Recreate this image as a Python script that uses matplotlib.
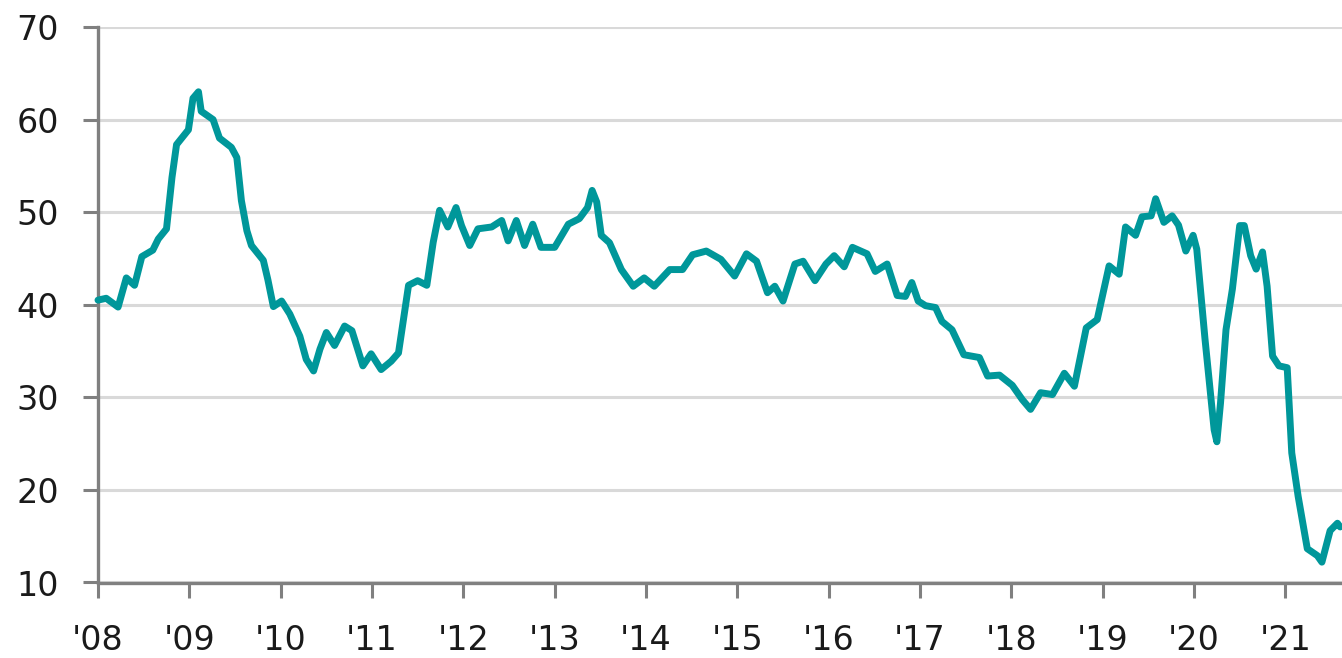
import matplotlib
matplotlib.use("Agg")
import matplotlib.pyplot as plt

# time in fractional years
years = [
    2008.00, 2008.09, 2008.22, 2008.31, 2008.40, 2008.48, 2008.60, 2008.66,
    2008.75, 2008.81, 2008.86, 2008.99, 2009.04, 2009.10, 2009.13, 2009.26,
    2009.33, 2009.46, 2009.52, 2009.57, 2009.63, 2009.68, 2009.81, 2009.86,
    2009.92, 2010.01, 2010.10, 2010.21, 2010.28, 2010.36, 2010.43, 2010.50,
    2010.59, 2010.70, 2010.78, 2010.90, 2010.99, 2011.10, 2011.21, 2011.29,
    2011.40, 2011.50, 2011.60, 2011.67, 2011.74, 2011.83, 2011.92, 2011.98,
    2012.07, 2012.16, 2012.31, 2012.42, 2012.49, 2012.58, 2012.67, 2012.76,
    2012.85, 2013.00, 2013.15, 2013.27, 2013.36, 2013.41, 2013.46, 2013.51,
    2013.60, 2013.73, 2013.86, 2013.98, 2014.09, 2014.26, 2014.40, 2014.51,
    2014.66, 2014.82, 2014.97, 2015.10, 2015.21, 2015.33, 2015.41, 2015.50,
    2015.63, 2015.72, 2015.85, 2015.97, 2016.06, 2016.17, 2016.26, 2016.42,
    2016.51, 2016.64, 2016.75, 2016.84, 2016.91, 2016.98, 2017.06, 2017.17,
    2017.24, 2017.35, 2017.48, 2017.65, 2017.74, 2017.87, 2018.01, 2018.12,
    2018.21, 2018.32, 2018.45, 2018.58, 2018.69, 2018.82, 2018.94, 2019.07,
    2019.18, 2019.25, 2019.36, 2019.43, 2019.53, 2019.58, 2019.67, 2019.76,
    2019.83, 2019.91, 2019.99, 2020.03, 2020.12, 2020.22, 2020.25, 2020.29,
    2020.35, 2020.42, 2020.50, 2020.55, 2020.62, 2020.68, 2020.75, 2020.80,
    2020.86, 2020.93, 2021.02, 2021.07, 2021.14, 2021.24, 2021.35, 2021.40,
    2021.49, 2021.57, 2021.60,
]
values = [
    40.5, 40.7, 39.75, 42.9, 42.1, 45.2, 45.9, 47.1,
    48.2, 53.75, 57.3, 58.9, 62.3, 63.0, 60.9, 60.0,
    58.0, 57.0, 55.9, 51.25, 48.0, 46.4, 44.8, 42.7,
    39.8, 40.4, 39.0, 36.6, 34.1, 32.85, 35.2, 37.0,
    35.6, 37.7, 37.2, 33.4, 34.7, 33.0, 33.9, 34.8,
    42.1, 42.6, 42.1, 46.75, 50.2, 48.4, 50.5, 48.55,
    46.4, 48.2, 48.4, 49.1, 46.9, 49.1, 46.4, 48.7,
    46.2, 46.2, 48.7, 49.3, 50.5, 52.35, 51.1, 47.5,
    46.7, 43.8, 42.0, 42.9, 42.0, 43.8, 43.8, 45.4,
    45.8, 44.9, 43.1, 45.5, 44.7, 41.3, 42.0, 40.4,
    44.4, 44.7, 42.6, 44.4, 45.3, 44.1, 46.2, 45.5,
    43.6, 44.4, 41.0, 40.9, 42.4, 40.4, 39.9, 39.7,
    38.2, 37.3, 34.6, 34.3, 32.3, 32.4, 31.3, 29.75,
    28.7, 30.5, 30.3, 32.6, 31.2, 37.5, 38.4, 44.2,
    43.3, 48.4, 47.5, 49.5, 49.6, 51.45, 48.9, 49.6,
    48.6, 45.8, 47.5, 46.0, 36.3, 26.5, 25.2, 29.4,
    37.3, 41.7, 48.55, 48.55, 45.3, 43.85, 45.7, 42.0,
    34.45, 33.4, 33.2, 24.0, 19.3, 13.65, 12.9, 12.2,
    15.6, 16.4, 16.0,
]

tick_years = list(range(2008, 2022))
tick_labels = [f"'{y % 100:02d}" for y in tick_years]
y_ticks = [10, 20, 30, 40, 50, 60, 70]

LINE_COLOR = "#00979a"
AXIS_GRAY = "#808080"
GRID_GRAY = "#d9d9d9"

fig = plt.figure(figsize=(13.42, 6.58), dpi=100)
ax = fig.add_axes([98 / 1342, 1 - 582.5 / 658, 1 - 98 / 1342, (582.5 - 27) / 658])

ax.plot(years, values, color=LINE_COLOR, linewidth=5.0,
        solid_joinstyle="round", solid_capstyle="round", zorder=3, clip_on=False)

ax.set_xlim(2008, 2021.62)
ax.set_ylim(10, 70)
ax.set_xticks(tick_years)
ax.set_xticklabels(tick_labels)
ax.set_yticks(y_ticks)

ax.yaxis.grid(True, color=GRID_GRAY, linewidth=2.2, zorder=0)
ax.set_axisbelow(True)

for side in ("top", "right"):
    ax.spines[side].set_visible(False)
for side in ("left", "bottom"):
    ax.spines[side].set_color(AXIS_GRAY)
    ax.spines[side].set_linewidth(2.4)

ax.tick_params(axis="both", direction="out", length=11, width=2.2,
               color=AXIS_GRAY, labelsize=24, labelcolor="#1a1a1a", pad=17)
ax.tick_params(axis="x", pad=19)

fig.savefig("out.png", dpi=100, facecolor="white")
